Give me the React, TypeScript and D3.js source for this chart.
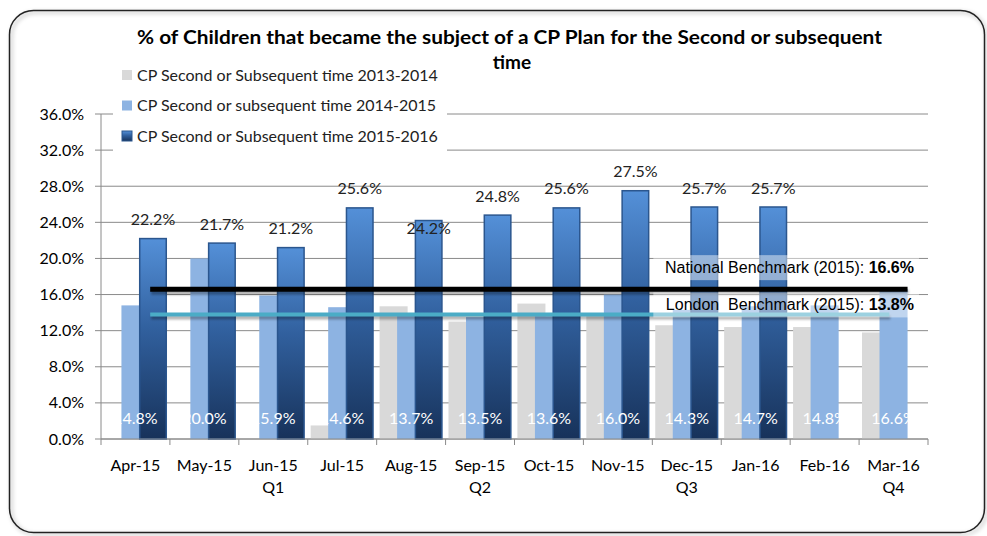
import * as d3 from 'd3'

const CATEGORIES = ['Apr-15', 'May-15', 'Jun-15', 'Jul-15', 'Aug-15', 'Sep-15', 'Oct-15', 'Nov-15', 'Dec-15', 'Jan-16', 'Feb-16', 'Mar-16']
const QUARTERS = ['', '', 'Q1', '', '', 'Q2', '', '', 'Q3', '', '', 'Q4']

const SERIES_NAMES = [
  'CP Second or Subsequent time 2013-2014',
  'CP Second or subsequent time 2014-2015',
  'CP Second or Subsequent time 2015-2016',
]
const VALUES_2013_14 = [0, 0, 0, 1.5, 14.7, 13.0, 15.0, 13.6, 12.6, 12.4, 12.4, 11.8]
const VALUES_2014_15 = [14.8, 20.0, 15.9, 14.6, 13.7, 13.5, 13.6, 16.0, 14.3, 14.7, 14.8, 16.6]
const VALUES_2015_16: (number | null)[] = [22.2, 21.7, 21.2, 25.6, 24.2, 24.8, 25.6, 27.5, 25.7, 25.7, null, null]
// Excel put this one label inside the bar top
const INSIDE_LABELS = ['Aug-15']

const Y_TICKS = [0, 4, 8, 12, 16, 20, 24, 28, 32, 36]

const BENCHMARK_NAMES = ['National Benchmark (2015): ', 'London  Benchmark (2015): ']
const BENCHMARK_VALUES = [16.6, 13.8]

const W = 987
const H = 536
const FONT = 'Lato, "Noto Sans", sans-serif'
const ARIAL = '"Liberation Sans", Arial, sans-serif'

const GREY = '#d9d9d9'
const LIGHT = '#8db3e2'

export default function App() {
  const left = 101
  const right = 928
  const top = 114
  const bottom = 439

  const x = d3.scaleBand<string>().domain(CATEGORIES).range([left, right]).padding(0)
  const y = d3.scaleLinear().domain([0, 36]).range([bottom, top])
  const step = x.step()

  // excel-style clustered bars: gap width ~21%, overlap ~37%
  const gap = 0.207
  const overlap = 0.375
  const barW = step / (3 - 2 * overlap + gap)
  const barX = (cat: string, i: number) => x(cat)! + (gap * barW) / 2 + i * barW * (1 - overlap)

  const lineStart = barX(CATEGORIES[0], 2) + barW * 0.4
  const lastCat = CATEGORIES[CATEGORIES.length - 1]
  const lineEnds = [barX(lastCat, 1) + barW, barX(lastCat, 1) + barW * 0.35]
  const benchColors = ['#000000', '#4bacc6']
  const benchWidths = [5, 4]
  const labelOffsets = [22, 10]

  return (
    <div style={{ position: 'absolute', left: 0, top: 0 }}>
      <svg width={W} height={H} viewBox={`0 0 ${W} ${H}`} style={{ display: 'block', background: '#fff' }}>
        <defs>
          <linearGradient id="darkGrad" x1="0" y1="0" x2="0" y2="1">
            <stop offset="0%" stopColor="#5490d8" />
            <stop offset="45%" stopColor="#31609e" />
            <stop offset="100%" stopColor="#17325a" />
          </linearGradient>
          <filter id="blur" filterUnits="userSpaceOnUse" x="0" y="0" width={W} height={H}>
            <feGaussianBlur stdDeviation="1.2" />
          </filter>
          <filter id="boxShadow" x="-5%" y="-20%" width="110%" height="150%">
            <feDropShadow dx="2" dy="2" stdDeviation="2" floodColor="#000" floodOpacity="0.35" />
          </filter>
        </defs>

        {/* outer frame */}
        <rect x={9.5} y={10.5} width={975} height={522} rx={24} fill="none" stroke="#222" strokeWidth={1.5} filter="url(#boxShadow)" />

        {/* title */}
        <text x={509.5} y={44} textAnchor="middle" fontFamily={FONT} fontWeight="bold" fontSize={18} fill="#000"
          textLength={745} lengthAdjust="spacingAndGlyphs">
          % of Children that became the subject of a CP Plan for the Second or subsequent
        </text>
        <text x={512} y={69} textAnchor="middle" fontFamily={FONT} fontWeight="bold" fontSize={19} fill="#000">
          time
        </text>

        {/* gridlines */}
        {Y_TICKS.map((t) => (
          <line key={t} x1={left} x2={right} y1={y(t)} y2={y(t)} stroke="#8a8a8a" strokeWidth={1} />
        ))}

        {/* bars */}
        {CATEGORIES.map((cat, i) => (
          <g key={cat}>
            {VALUES_2013_14[i] > 0 && (
              <rect x={barX(cat, 0)} y={y(VALUES_2013_14[i])} width={barW} height={bottom - y(VALUES_2013_14[i])} fill={GREY} />
            )}
            <rect x={barX(cat, 1)} y={y(VALUES_2014_15[i])} width={barW} height={bottom - y(VALUES_2014_15[i])} fill={LIGHT} />
            {VALUES_2015_16[i] != null && (
              <rect x={barX(cat, 2) + 0.75} y={y(VALUES_2015_16[i]!)} width={barW - 1.5} height={bottom - y(VALUES_2015_16[i]!)}
                fill="url(#darkGrad)" stroke="#2b568e" strokeWidth={1.5} />
            )}
          </g>
        ))}

        {/* axes */}
        <line x1={left} x2={left} y1={top} y2={bottom} stroke="#8a8a8a" />
        {Y_TICKS.map((t) => (
          <g key={t}>
            <line x1={left - 6} x2={left} y1={y(t)} y2={y(t)} stroke="#8a8a8a" />
            <text x={left - 17} y={y(t)} dy="0.35em" textAnchor="end" fontFamily={FONT} fontSize={16} fill="#000">
              {t.toFixed(1)}%
            </text>
          </g>
        ))}
        <line x1={left} x2={right} y1={bottom} y2={bottom} stroke="#8a8a8a" />
        {[...CATEGORIES.map((c) => x(c)!), right].map((px, i) => (
          <line key={i} x1={px} x2={px} y1={bottom} y2={bottom + 6} stroke="#8a8a8a" />
        ))}
        {CATEGORIES.map((cat, i) => (
          <g key={cat}>
            <text x={x(cat)! + step / 2} y={471} textAnchor="middle" fontFamily={FONT} fontSize={16} fill="#000">{cat}</text>
            {QUARTERS[i] && (
              <text x={x(cat)! + step / 2} y={493} textAnchor="middle" fontFamily={FONT} fontSize={16} fill="#000">{QUARTERS[i]}</text>
            )}
          </g>
        ))}

        {/* light blue labels, inside base */}
        {CATEGORIES.map((cat, i) => (
          <text key={cat} x={barX(cat, 1) + barW / 2} y={bottom - 21} dy="0.35em" textAnchor="middle"
            fontFamily={FONT} fontSize={16} fill="#fff">
            {VALUES_2014_15[i].toFixed(1)}%
          </text>
        ))}

        {/* dark blue labels */}
        {CATEGORIES.map((cat, i) => {
          const v = VALUES_2015_16[i]
          if (v == null) return null
          const inside = INSIDE_LABELS.includes(cat)
          return (
            <text key={cat} x={barX(cat, 2) + barW / 2} y={inside ? y(v) + 8 : y(v) - 19} dy="0.35em" textAnchor="middle"
              fontFamily={FONT} fontSize={16} fill="#222">
              {v.toFixed(1)}%
            </text>
          )
        })}

        {/* benchmark lines with soft shadow */}
        {BENCHMARK_VALUES.map((v, i) => (
          <g key={i}>
            <line x1={lineStart + 1} x2={lineEnds[i] + 1} y1={y(v) + 3} y2={y(v) + 3} stroke="#000" strokeOpacity={0.3}
              strokeWidth={benchWidths[i]} filter="url(#blur)" />
            <line x1={lineStart} x2={lineEnds[i]} y1={y(v)} y2={y(v)} stroke={benchColors[i]} strokeWidth={benchWidths[i]} />
          </g>
        ))}
        {BENCHMARK_VALUES.map((v, i) => {
          const cy = y(v) - labelOffsets[i]
          return (
            <g key={i}>
              <rect x={x('Dec-15')! + 1} y={cy - 12} width={right - 10 - x('Dec-15')!} height={25} fill="#fff" opacity={0.45} />
              <text x={right - 14} y={cy} dy="0.35em" textAnchor="end" fontFamily={ARIAL} fontSize={16} fill="#000"
                style={{ whiteSpace: 'pre' }}>
                {BENCHMARK_NAMES[i]}
                <tspan fontWeight="bold">{v.toFixed(1)}%</tspan>
              </text>
            </g>
          )
        })}

        {/* legend */}
        <rect x={113} y={60} width={334} height={92} fill="#fff" />
        {SERIES_NAMES.map((name, i) => {
          const ly = 75 + i * 30.5
          return (
            <g key={name}>
              <rect x={122} y={ly - 5} width={10} height={10}
                fill={i === 0 ? GREY : i === 1 ? LIGHT : 'url(#darkGrad)'} stroke={i === 2 ? '#2b568e' : 'none'} />
              <text x={137} y={ly} dy="0.35em" fontFamily={FONT} fontSize={16} fill="#222">{name}</text>
            </g>
          )
        })}
      </svg>
    </div>
  )
}
